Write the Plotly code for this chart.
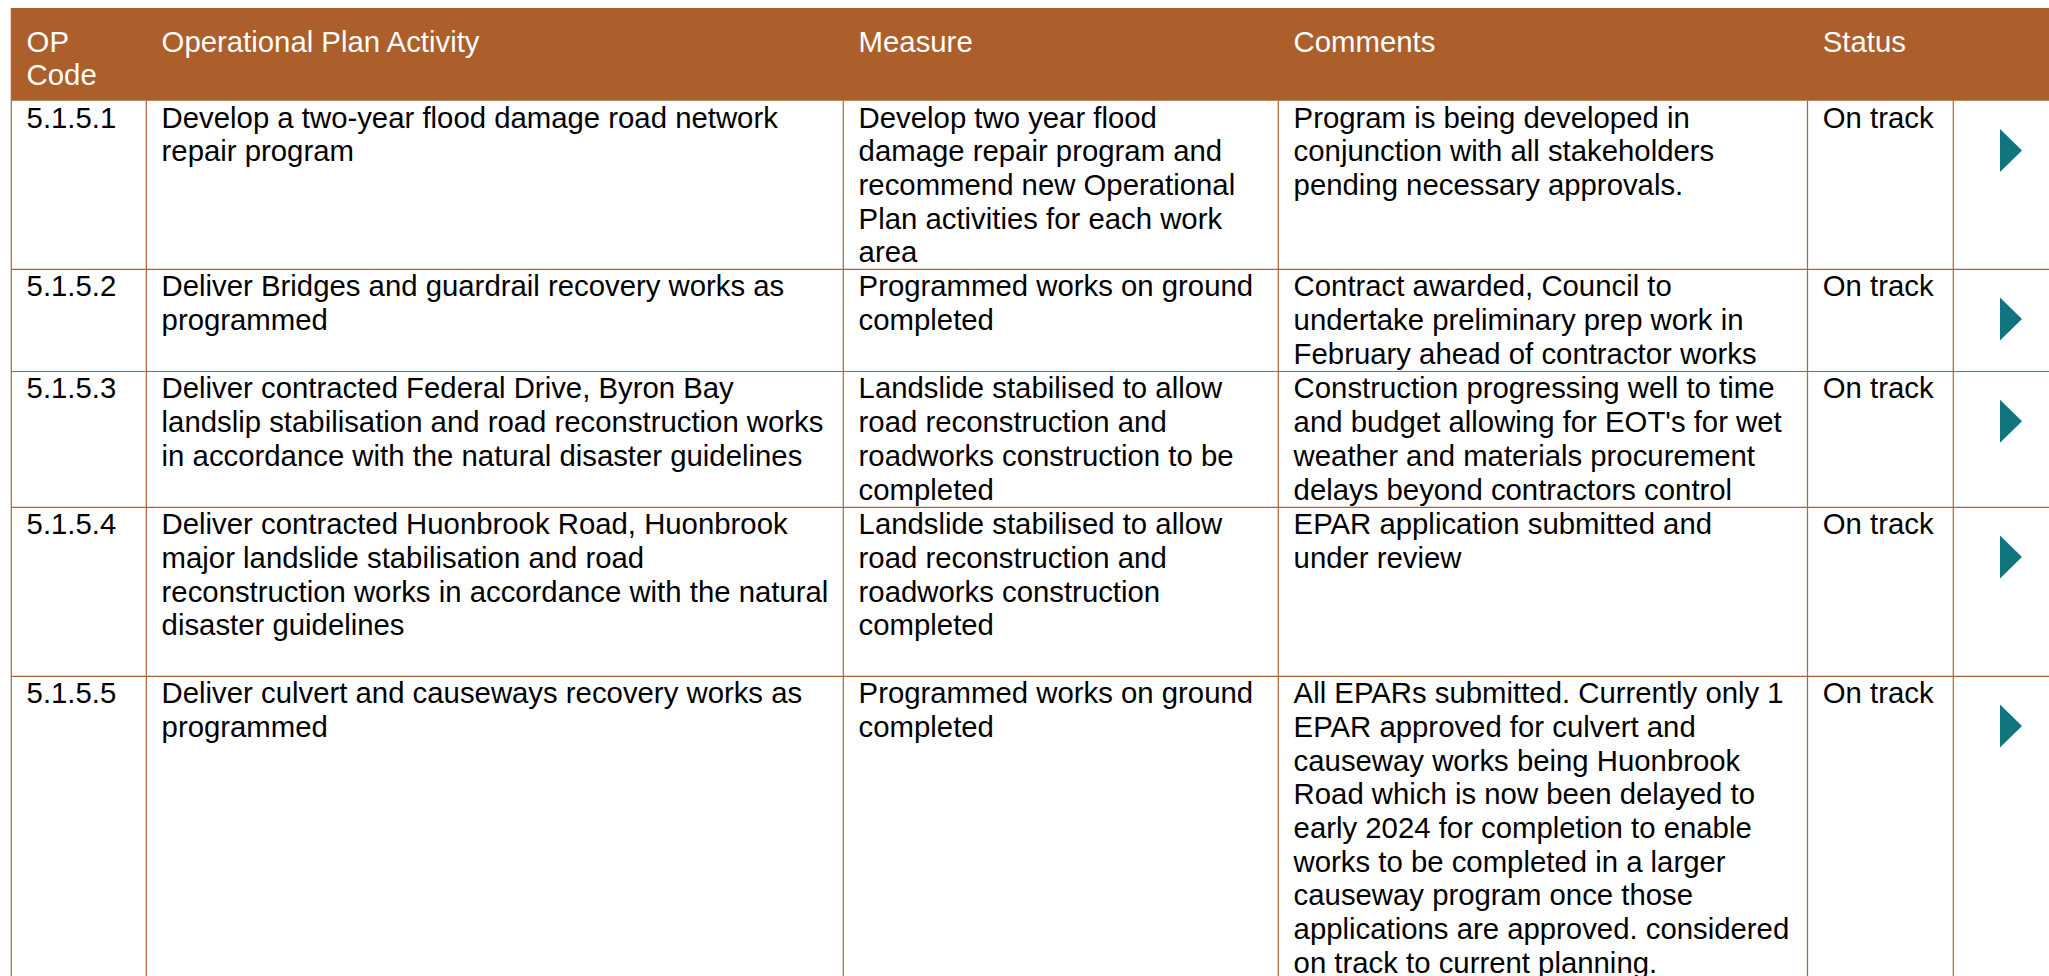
import plotly.graph_objects as go

# ---------------- data ----------------
HEADERS = ["OP\nCode", "Operational Plan Activity", "Measure", "Comments", "Status"]

OP_CODES = ["5.1.5.1", "5.1.5.2", "5.1.5.3", "5.1.5.4", "5.1.5.5"]

ACTIVITIES = [
    "Develop a two-year flood damage road network\nrepair program",
    "Deliver Bridges and guardrail recovery works as\nprogrammed",
    "Deliver contracted Federal Drive, Byron Bay\nlandslip stabilisation and road reconstruction works\nin accordance with the natural disaster guidelines",
    "Deliver contracted Huonbrook Road, Huonbrook\nmajor landslide stabilisation and road\nreconstruction works in accordance with the natural\ndisaster guidelines",
    "Deliver culvert and causeways recovery works as\nprogrammed",
]

MEASURES = [
    "Develop two year flood\ndamage repair program and\nrecommend new Operational\nPlan activities for each work\narea",
    "Programmed works on ground\ncompleted",
    "Landslide stabilised to allow\nroad reconstruction and\nroadworks construction to be\ncompleted",
    "Landslide stabilised to allow\nroad reconstruction and\nroadworks construction\ncompleted",
    "Programmed works on ground\ncompleted",
]

COMMENTS = [
    "Program is being developed in\nconjunction with all stakeholders\npending necessary approvals.",
    "Contract awarded, Council to\nundertake preliminary prep work in\nFebruary ahead of contractor works",
    "Construction progressing well to time\nand budget allowing for EOT's for wet\nweather and materials procurement\ndelays beyond contractors control",
    "EPAR application submitted and\nunder review",
    "All EPARs submitted. Currently only 1\nEPAR approved for culvert and\ncauseway works being Huonbrook\nRoad which is now been delayed to\nearly 2024 for completion to enable\nworks to be completed in a larger\ncauseway program once those\napplications are approved. considered\non track to current planning.",
]

STATUSES = ["On track", "On track", "On track", "On track", "On track"]

# ---------------- layout / style ----------------
W, H = 2049, 976
FONT = "Liberation Sans, Arial, sans-serif"
FS = 29.33
LH = 33.7
HEADER_BG = "#AC5E2B"
LINE_COLOR = "#B0632F"
ARROW_COLOR = "#10757E"

COL_EDGES = [11.3, 146.3, 843.3, 1278.3, 1807.5, 1953.3, W]
TABLE_TOP = 8.0
ROW_EDGES = [100.7, 269.3, 371.5, 507.3, 676.3, H]
TEXT_PAD = 15.3
BASE_OFF = 27.0          # first baseline below row top
HEAD_BASE_OFF = 43.7     # first header baseline below table top
ARROW_X0 = 2000.0
ARROW_W = 22.0
ARROW_TOP = 28.3
ARROW_H = 43.0


def text_y(baseline):
    # scatter text with 'middle' position puts baseline at y + 0.25*fontsize
    return baseline - 0.25 * FS


fig = go.Figure()

shapes = [dict(type="rect", xref="x", yref="y",
               x0=COL_EDGES[0], x1=COL_EDGES[-1], y0=TABLE_TOP, y1=ROW_EDGES[0],
               fillcolor=HEADER_BG, line_width=0, layer="below")]
for y in ROW_EDGES[1:-1]:
    shapes.append(dict(type="line", xref="x", yref="y", x0=COL_EDGES[0], x1=COL_EDGES[-1],
                       y0=y, y1=y, line=dict(color=LINE_COLOR, width=1.2)))
for i, x in enumerate(COL_EDGES[:-1]):
    y0 = TABLE_TOP if i == 0 else ROW_EDGES[0]
    shapes.append(dict(type="line", xref="x", yref="y", x0=x, x1=x,
                       y0=y0, y1=ROW_EDGES[-1], line=dict(color=LINE_COLOR, width=1.2)))

# header text
hx, hy, ht = [], [], []
for c, head in enumerate(HEADERS):
    for k, line in enumerate(head.split("\n")):
        hx.append(COL_EDGES[c] + TEXT_PAD)
        hy.append(text_y(TABLE_TOP + HEAD_BASE_OFF + k * LH))
        ht.append(line)
fig.add_trace(go.Scatter(x=hx, y=hy, text=ht, mode="text", textposition="middle right",
                         textfont=dict(family=FONT, size=FS, color="white"),
                         hoverinfo="skip", showlegend=False, cliponaxis=False))

# body text
columns = [OP_CODES, ACTIVITIES, MEASURES, COMMENTS, STATUSES]
bx, by, bt = [], [], []
for r in range(len(OP_CODES)):
    top = ROW_EDGES[r]
    for c, col in enumerate(columns):
        for k, line in enumerate(col[r].split("\n")):
            bx.append(COL_EDGES[c] + TEXT_PAD)
            by.append(text_y(top + BASE_OFF + k * LH))
            bt.append(line)
fig.add_trace(go.Scatter(x=bx, y=by, text=bt, mode="text", textposition="middle right",
                         textfont=dict(family=FONT, size=FS, color="black"),
                         hoverinfo="skip", showlegend=False, cliponaxis=False))

# status arrows (one triangle per row)
ax, ay = [], []
for r in range(len(STATUSES)):
    top = ROW_EDGES[r]
    ax += [ARROW_X0, ARROW_X0 + ARROW_W, ARROW_X0, ARROW_X0, None]
    ay += [top + ARROW_TOP, top + ARROW_TOP + ARROW_H / 2, top + ARROW_TOP + ARROW_H,
           top + ARROW_TOP, None]
fig.add_trace(go.Scatter(x=ax, y=ay, mode="lines", fill="toself", fillcolor=ARROW_COLOR,
                         line=dict(width=0, color=ARROW_COLOR),
                         hoverinfo="skip", showlegend=False))

fig.update_layout(
    width=W, height=H,
    margin=dict(l=0, r=0, t=0, b=0, pad=0),
    paper_bgcolor="white", plot_bgcolor="white",
    shapes=shapes,
    xaxis=dict(range=[0, W], visible=False, fixedrange=True),
    yaxis=dict(range=[H, 0], visible=False, fixedrange=True),
)

fig.write_html("out.html", config={"displayModeBar": False},
               post_script="document.body.style.margin='0';document.body.style.overflow='hidden';")
